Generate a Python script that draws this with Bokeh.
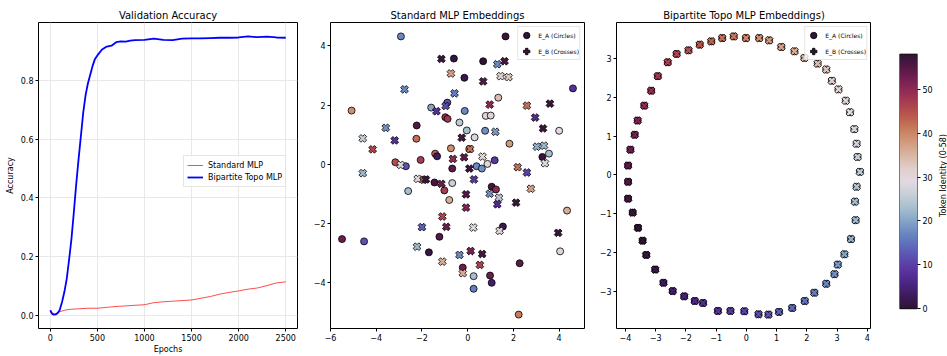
import numpy as np
from bokeh.plotting import figure
from bokeh.layouts import row
from bokeh.models import (Range1d, FixedTicker, PrintfTickFormatter, CustomJSTickFormatter,
                          LinearColorMapper, ColumnDataSource, Legend, LegendItem)
from bokeh.transform import linear_cmap
from bokeh.embed import file_html
from bokeh.resources import INLINE

# ---------------- data: validation accuracy ----------------
topo_epochs = [0, 20, 40, 60, 80, 100, 125, 150, 175, 200, 225, 250, 275, 300, 325, 350, 375, 400,
               425, 450, 475, 500, 550, 600, 650, 700, 750, 800, 850, 900, 1000, 1100, 1200, 1300,
               1400, 1500, 1600, 1700, 1800, 1900, 2000, 2100, 2200, 2300, 2400, 2500]
topo_acc = [0.017, 0.005, 0.002, 0.003, 0.008, 0.018, 0.045, 0.080, 0.125, 0.190, 0.260, 0.350,
            0.445, 0.530, 0.610, 0.690, 0.750, 0.790, 0.820, 0.850, 0.873, 0.885, 0.905, 0.915,
            0.918, 0.930, 0.933, 0.932, 0.935, 0.937, 0.938, 0.942, 0.938, 0.937, 0.942, 0.943,
            0.943, 0.944, 0.945, 0.945, 0.946, 0.950, 0.947, 0.949, 0.946, 0.945]
std_epochs = [0, 50, 100, 150, 200, 300, 400, 500, 600, 700, 800, 900, 1000, 1100, 1200, 1300,
              1400, 1500, 1600, 1700, 1800, 1900, 2000, 2100, 2200, 2300, 2400, 2500]
std_acc = [0.010, 0.005, 0.012, 0.017, 0.020, 0.022, 0.024, 0.024, 0.027, 0.030, 0.032, 0.034,
           0.036, 0.043, 0.046, 0.048, 0.050, 0.052, 0.058, 0.064, 0.072, 0.078, 0.083, 0.089,
           0.093, 0.101, 0.110, 0.114]

# ---------------- data: standard MLP embeddings ----------------
std_a_x = [-2.921, 1.655, -0.604, 0.676, -0.144, 4.604, -5.079, -1.597, -0.892, -0.129,
           1.338, 0.791, 1.007, -0.978, -0.878, -2.230, -0.360, -0.040, 0.763, 4.000,
           -2.245, -0.734, 1.827, 0.072, -1.424, -1.338, -3.165, -2.705, -2.058, -0.676,
           0.388, 0.619, 0.863, 1.180, 3.266, 3.554, -2.604, -1.453, -1.022, -0.676,
           -0.806, 1.050, 1.237, 4.345, 1.540, -5.496, -4.532, -1.237, -1.698, 4.043,
           2.273, -0.216, 0.259, 0.978, 1.050, 0.259, 2.230, 0.302]
std_a_y = [4.324, 4.324, 3.575, 3.485, 2.926, 2.568, 1.818, 1.919, 2.087, 1.807,
           2.254, 1.639, 1.650, 1.594, 1.538, 1.315, 1.415, 1.147, 1.136, 1.136,
           0.867, 0.543, 0.699, 0.520, 0.364, 0.274, 0.073, -0.062, 0.151, -0.140,
           -0.062, -0.140, 0.017, 0.140, 0.252, 0.364, -0.901, -0.610, -0.878, -0.632,
           -1.203, -0.755, -0.845, -1.561, -2.098, -2.523, -2.601, -2.445, -2.971, -2.937,
           -3.340, -3.485, -3.776, -3.754, -4.000, -4.201, -5.074, 0.912]
std_a_tok = [17, 57, 1, 58, 2, 8, 39, 20, 12, 17,
             34, 30, 31, 49, 48, 55, 25, 23, 18, 29,
             42, 39, 38, 41, 44, 3, 45, 12, 47, 54,
             17, 18, 30, 9, 57, 23, 23, 56, 47, 26,
             36, 56, 50, 36, 2, 53, 12, 55, 1, 30,
             54, 53, 23, 53, 4, 16, 41, 28]

std_b_x = [-1.151, -0.734, -2.763, -0.576, -1.367, -0.964, -3.583, -4.590, -3.194, -4.158,
           -0.647, -2.935, -4.590, 1.612, 1.295, 0.676, 1.439, 1.784, 0.964, 2.590,
           3.597, 2.950, 3.295, -0.259, 1.209, 0.101, -0.158, 0.647, 3.022, 3.338,
           3.381, 0.072, 2.187, 2.590, -2.187, -1.928, -1.827, -1.151, -1.108, -0.935,
           -2.000, -2.216, -1.108, 0.273, 2.763, -0.072, 0.964, 1.367, 1.295, 2.115,
           -0.072, 0.245, 1.396, 3.957, -0.360, 0.129, 0.633, -0.216, 0.532]
std_b_y = [3.564, 3.071, 2.534, 2.400, 1.796, 1.975, 1.236, 0.878, 0.811, 0.509,
           0.185, -0.017, -0.297, 3.485, 3.385, 2.803, 2.982, 2.948, 2.020, 1.986,
           2.053, 1.583, 1.214, 0.901, 1.102, 0.520, 0.241, 0.263, 0.599, 0.632,
           0.039, -0.140, -0.095, -0.274, -0.487, -0.520, -0.509, -0.655, -1.762, -2.109,
           -2.120, -2.780, -3.284, -0.509, -0.822, -1.013, -0.990, -1.124, -1.348, -1.292,
           -1.460, -2.132, -2.244, -2.311, -3.060, -2.926, -3.027, -3.676, -3.396]
std_b_tok = [57, 37, 17, 16, 8, 11, 18, 26, 8, 46,
             50, 30, 22, 56, 17, 55, 31, 33, 50, 42,
             57, 7, 57, 56, 19, 42, 54, 30, 21, 22,
             29, 57, 42, 10, 30, 43, 57, 53, 46, 53,
             13, 22, 36, 9, 37, 55, 18, 25, 7, 57,
             51, 29, 30, 57, 17, 52, 56, 36, 46]

# ---------------- data: bipartite topo MLP embeddings (token 0..58) ----------------
topo_tok = list(range(59))
topo_a_x = [-3.433, -3.312, -3.017, -2.744, -2.438, -2.056, -1.706, -1.433, -0.941, -0.526,
            -0.067, 0.403, 0.731, 1.081, 1.518, 1.933, 2.250, 2.644, 2.917, 3.026,
            3.245, 3.463, 3.616, 3.594, 3.649, 3.758, 3.682, 3.649, 3.573, 3.430,
            3.289, 3.048, 2.830, 2.644, 2.360, 1.922, 1.594, 1.157, 0.753, 0.425,
            -0.012, -0.416, -0.799, -1.160, -1.542, -1.914, -2.307, -2.602, -2.930, -3.149,
            -3.378, -3.597, -3.695, -3.837, -3.914, -3.914, -3.914, -3.761, -3.586]
topo_a_y = [-1.694, -2.061, -2.437, -2.778, -2.992, -3.128, -3.248, -3.299, -3.504, -3.504,
            -3.512, -3.590, -3.598, -3.529, -3.427, -3.248, -3.034, -2.804, -2.556, -2.309,
            -2.044, -1.652, -1.165, -0.687, -0.303, 0.081, 0.465, 0.806, 1.181, 1.617,
            1.915, 2.206, 2.427, 2.718, 2.871, 3.016, 3.187, 3.298, 3.469, 3.528,
            3.528, 3.571, 3.528, 3.443, 3.358, 3.212, 3.119, 2.905, 2.547, 2.171,
            1.787, 1.403, 1.036, 0.652, 0.243, -0.175, -0.611, -0.969, -1.362]
topo_b_x = list(topo_a_x)
topo_b_y = list(topo_a_y)

acc_xticks = [0, 500, 1000, 1500, 2000, 2500]
acc_yticks = [0.0, 0.2, 0.4, 0.6, 0.8]
std_xticks = [-6, -4, -2, 0, 2, 4]
std_yticks = [-4, -2, 0, 2, 4]
topo_xticks = [-4, -3, -2, -1, 0, 1, 2, 3, 4]
topo_yticks = [-3, -2, -1, 0, 1, 2, 3]
cbar_ticks = [0, 10, 20, 30, 40, 50]
tok_low, tok_high = 0, 58
cbar_label = "Token Identity (0-58)"

# ---------------- style: twilight_shifted-like palette ----------------
stops = ["#2f1436", "#3e1b5e", "#4c2686", "#5a35a0", "#5c50b0", "#5f6ebb", "#6d8cc2",
         "#88a8c8", "#aac0cf", "#c8d0d8", "#e2d9e2", "#e0cfcc", "#d9b8a6", "#d39c80",
         "#c9805f", "#bd5d4e", "#ab434f", "#932d56", "#742052", "#521844", "#2f1436"]


def hex2rgb(h):
    return [int(h[i:i + 2], 16) for i in (1, 3, 5)]


srgb = np.array([hex2rgb(h) for h in stops], dtype=float)
pos = np.linspace(0, 1, len(stops))
q = np.linspace(0, 1, 256)
palette = ["#%02x%02x%02x" % tuple(int(round(np.interp(v, pos, srgb[:, c]))) for c in range(3)) for v in q]

FONT = "DejaVu Sans"
minus_fmt = "return (tick < 0 ? '\\u2212' : '') + Math.abs(tick).toString();"


def style(p, xticks, yticks):
    p.outline_line_color = "black"
    p.outline_line_width = 1
    p.title.align = "center"
    p.title.text_font = FONT
    p.title.text_font_size = "10px"
    p.title.text_font_style = "normal"
    p.title.text_color = "black"
    p.title.standoff = 4
    p.xaxis.ticker = FixedTicker(ticks=xticks)
    p.yaxis.ticker = FixedTicker(ticks=yticks)
    for ax in (p.xaxis, p.yaxis):
        ax.axis_line_color = None
        ax.major_tick_in = 0
        ax.major_tick_out = 3
        ax.major_tick_line_color = "black"
        ax.minor_tick_line_color = None
        ax.major_label_text_font = FONT
        ax.major_label_text_font_size = "8px"
        ax.major_label_text_color = "black"
        ax.major_label_standoff = 2
        ax.axis_label_text_font = FONT
        ax.axis_label_text_font_size = "8px"
        ax.axis_label_text_font_style = "normal"
        ax.axis_label_text_color = "black"
        ax.axis_label_standoff = 3


H = 356

# ---------------- panel 1 ----------------
p1 = figure(width=310, height=H, output_backend="svg", toolbar_location=None,
            title="Validation Accuracy", x_range=Range1d(-125, 2625), y_range=Range1d(-0.045, 0.997),
            min_border_left=38, min_border_right=13, min_border_top=22, min_border_bottom=25)
style(p1, acc_xticks, acc_yticks)
p1.yaxis.formatter = PrintfTickFormatter(format="%.1f")
p1.xaxis.axis_label = "Epochs"
p1.yaxis.axis_label = "Accuracy"
p1.xaxis.axis_label_standoff = 1
p1.xgrid.grid_line_color = "#e8e8e8"
p1.ygrid.grid_line_color = "#e8e8e8"
r_std = p1.line(std_epochs, std_acc, line_color="red", line_alpha=0.7, line_width=1)
r_topo = p1.line(topo_epochs, topo_acc, line_color="blue", line_width=1.8)
leg1 = Legend(items=[LegendItem(label="Standard MLP", renderers=[r_std]),
                     LegendItem(label="Bipartite Topo MLP", renderers=[r_topo])],
              location=(145, 141))
leg1.label_text_font = FONT
leg1.label_text_font_size = "8px"
leg1.label_text_color = "black"
leg1.glyph_height = 12
leg1.glyph_width = 16
leg1.label_height = 12
leg1.spacing = 0
leg1.padding = 3
leg1.margin = 0
leg1.label_standoff = 5
leg1.border_line_color = "#cccccc"
leg1.background_fill_alpha = 0.8
p1.add_layout(leg1)


def pad_range(vals, frac=0.05):
    lo, hi = min(vals), max(vals)
    d = (hi - lo) * frac
    return Range1d(lo - d, hi + d)


def darkest_index(toks):
    # the legend swatch uses the point whose colour is nearest the dark ends of the map
    return int(np.argmin([min(t - tok_low, tok_high - t) for t in toks]))


def emb_panel(title, ax_, ay_, at_, bx_, by_, bt_, xticks, yticks, width, bl, br):
    p = figure(width=width, height=H, output_backend="svg", toolbar_location=None, title=title,
               x_range=pad_range(ax_ + bx_), y_range=pad_range(ay_ + by_),
               min_border_left=bl, min_border_right=br, min_border_top=22, min_border_bottom=25)
    style(p, xticks, yticks)
    p.xaxis.formatter = CustomJSTickFormatter(code=minus_fmt)
    p.yaxis.formatter = CustomJSTickFormatter(code=minus_fmt)
    p.xgrid.visible = False
    p.ygrid.visible = False
    cmap = linear_cmap("t", palette, tok_low, tok_high)
    sa = ColumnDataSource(dict(x=ax_, y=ay_, t=at_))
    sb = ColumnDataSource(dict(x=bx_, y=by_, t=bt_))
    ra = p.scatter("x", "y", source=sa, marker="circle", size=7, fill_color=cmap,
                   line_color="black", line_width=0.8)
    rb = p.scatter("x", "y", source=sb, marker="plus", angle=np.pi / 4, size=8, fill_color=cmap,
                   line_color="black", line_width=0.8)
    leg = Legend(items=[LegendItem(label="E_A (Circles)", renderers=[ra], index=darkest_index(at_)),
                        LegendItem(label="E_B (Crosses)", renderers=[rb], index=darkest_index(bt_))],
                 location="top_right")
    leg.label_text_font = FONT
    leg.label_text_font_size = "6px"
    leg.label_text_color = "black"
    leg.glyph_height = 16
    leg.glyph_width = 16
    leg.label_height = 10
    leg.spacing = -6
    leg.padding = 0
    leg.margin = 4
    leg.label_standoff = 4
    leg.border_line_color = "#cccccc"
    leg.background_fill_alpha = 0.8
    p.add_layout(leg)
    return p


p2 = emb_panel("Standard MLP Embeddings", std_a_x, std_a_y, std_a_tok, std_b_x, std_b_y, std_b_tok,
               std_xticks, std_yticks, 286, 16, 12)
p3 = emb_panel("Bipartite Topo MLP Embeddings)", topo_a_x, topo_a_y, topo_tok, topo_b_x, topo_b_y, topo_tok,
               topo_xticks, topo_yticks, 275, 17, 0)

# ---------------- colorbar ----------------
p4 = figure(width=64, height=H, output_backend="svg", toolbar_location=None,
            x_range=Range1d(0, 1), y_range=Range1d(-4.51, 65.22),
            x_axis_location=None, y_axis_location="right",
            min_border_left=28, min_border_right=14, min_border_top=22, min_border_bottom=25)
style(p4, [], cbar_ticks)
p4.outline_line_color = None
p4.xgrid.visible = False
p4.ygrid.visible = False
grad = np.linspace(tok_low, tok_high, 256).reshape(256, 1)
p4.image(image=[grad], x=0, y=tok_low, dw=1, dh=tok_high - tok_low,
         color_mapper=LinearColorMapper(palette=palette, low=tok_low, high=tok_high))
p4.quad(left=[0], right=[1], bottom=[tok_low], top=[tok_high], fill_color=None,
        line_color="black", line_width=1)

# narrow strip that only carries the colour bar's (bottom-to-top) label
p5 = figure(width=12, height=H, output_backend="svg", toolbar_location=None,
            x_range=Range1d(0, 1), y_range=Range1d(0, 1), x_axis_location=None,
            min_border_left=11, min_border_right=0, min_border_top=22, min_border_bottom=25)
p5.outline_line_color = None
p5.xgrid.visible = False
p5.ygrid.visible = False
p5.yaxis.ticker = FixedTicker(ticks=[])
p5.yaxis.axis_line_color = None
p5.yaxis.major_tick_out = 0
p5.yaxis.major_tick_in = 0
p5.yaxis.minor_tick_line_color = None
p5.yaxis.axis_label = cbar_label
p5.yaxis.axis_label_standoff = 0
p5.yaxis.axis_label_text_font = FONT
p5.yaxis.axis_label_text_font_size = "8px"
p5.yaxis.axis_label_text_font_style = "normal"
p5.yaxis.axis_label_text_color = "black"

layout = row(p1, p2, p3, p4, p5, spacing=0)
open("out.html", "w").write(file_html(layout, INLINE))
